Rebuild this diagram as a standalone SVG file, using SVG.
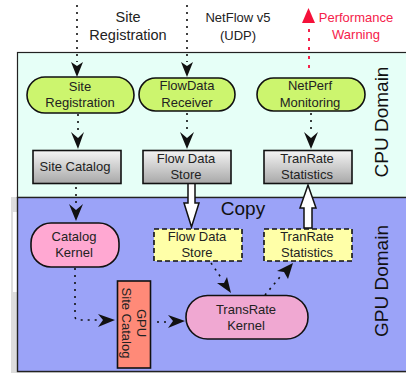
<svg xmlns="http://www.w3.org/2000/svg" width="406" height="373" viewBox="0 0 406 373">
<style>
text{font-family:"Liberation Sans",Arial,sans-serif;font-size:13px;fill:#222;text-anchor:middle}
.big{font-size:19px;fill:#111}
.lbl{font-size:14.500px}
.red{fill:#f5224a}
.s{stroke:#111;stroke-width:1.600}
.pill{fill:#ccf56e}
.box{fill:url(#g)}
.dash{fill:#ffffa8;stroke:#111;stroke-width:1.600;stroke-dasharray:5 3}
.c{fill:none;stroke:#111;stroke-width:1.600;stroke-dasharray:2 5}
.cr{fill:none;stroke:#f5224a;stroke-width:2;stroke-dasharray:3 6}
.ha{fill:#111}
.w{fill:#fff;stroke:#111;stroke-width:1.500}
</style>
<defs>
<linearGradient id="g" x1="0" y1="0" x2="0" y2="1"><stop offset="0" stop-color="#f4f4f4"/><stop offset="1" stop-color="#a8a8a8"/></linearGradient>
</defs>
<rect width="406" height="373" fill="#fff"/>
<rect x="11" y="197" width="6" height="176" fill="#ddd"/>
<rect x="13" y="212" width="4" height="80" fill="#fff"/>
<rect x="11" y="371" width="395" height="2" fill="#ddd"/>
<rect x="17.500" y="52.500" width="400" height="145" fill="#e6fff7" stroke="#222" stroke-width="1.200"/>
<rect x="17.500" y="197.500" width="400" height="174" fill="#9ba3f8" stroke="#222" stroke-width="1.400"/>
<g id="labels">
<text class="lbl" x="128" y="22">Site</text>
<text class="lbl" x="128" y="40">Registration</text>
<text x="238" y="22">NetFlow v5</text>
<text x="238" y="40">(UDP)</text>
<text class="red" x="356" y="22">Performance</text>
<text class="red" x="356" y="39">Warning</text>
<text class="big" x="243" y="215">Copy</text>
<text class="big" transform="translate(388 122) rotate(-90)">CPU Domain</text>
<text class="big" transform="translate(388 281) rotate(-90)">GPU Domain</text>
</g>
<g id="connectors">
<path class="c" d="M77 5V62"/><path class="ha" d="M71 62L77 66L83 62L77 77Z"/>
<path class="c" d="M187 5V62"/><path class="ha" d="M181 62L187 66L193 62L187 77Z"/>
<path class="cr" d="M309 29V72"/><path d="M302 23L315 23L308.500 8Z" fill="#f5113a"/>
<path class="c" d="M78 114V132"/><path class="ha" d="M71 132L78 138L84 132L78 149Z"/>
<path class="c" d="M187 113V132"/><path class="ha" d="M180 132L187 138L194 132L187 149Z"/>
<path class="c" d="M311 113V132"/><path class="ha" d="M304 132L311 138L318 132L311 149Z"/>
<path class="c" d="M76 187V204"/><path class="ha" d="M69 204L76 210L83 204L76 221Z"/>
<path class="c" d="M75 268V316Q75 320 79 320H98"/><path class="ha" d="M98 314L103 320L98 327L115 320Z"/>
<path class="c" d="M157 322H168"/><path class="ha" d="M168 315L173 321L168 328L185 321Z"/>
<path class="c" d="M211 263L222 279"/><path class="ha" d="M217 283L224 283L227 277L231 293Z"/>
<path class="c" d="M265 295L280 277"/><path class="ha" d="M277 271L284 272L288 279L293 263Z"/>
<path class="w" d="M188 183H195V203H199L191.500 227L184 203H188Z"/>
<path class="w" d="M304 228V208H300L308 185L316 208H312V228Z"/>
</g>
<g id="site-registration"><rect class="pill s" x="27" y="77" width="107" height="36" rx="18"/><text x="80" y="91">Site</text><text x="80" y="107">Registration</text></g>
<g id="flowdata-receiver"><rect class="pill s" x="139" y="78" width="96" height="33" rx="16.500"/><text x="187" y="90">FlowData</text><text x="187" y="107">Receiver</text></g>
<g id="netperf-monitoring"><rect class="pill s" x="257" y="78" width="108" height="33" rx="16.500"/><text x="310" y="90">NetPerf</text><text x="310" y="107">Monitoring</text></g>
<g id="site-catalog"><rect class="box s" x="33" y="150.500" width="88" height="33"/><text x="75" y="171">Site Catalog</text></g>
<g id="flow-data-store"><rect class="box s" x="143" y="150.500" width="88" height="33"/><text x="186" y="163">Flow Data</text><text x="186" y="179">Store</text></g>
<g id="tranrate-statistics"><rect class="box s" x="264" y="150.500" width="88" height="33"/><text x="307" y="163">TranRate</text><text x="307" y="179">Statistics</text></g>
<g id="catalog-kernel"><rect class="s" x="31" y="223" width="88" height="44" rx="20" fill="#ffa8d2"/><text x="74" y="241">Catalog</text><text x="74" y="257">Kernel</text></g>
<g id="flow-data-store-gpu"><rect class="dash" x="154" y="229" width="88" height="32"/><text x="197" y="241">Flow Data</text><text x="197" y="257">Store</text></g>
<g id="tranrate-statistics-gpu"><rect class="dash" x="264" y="229" width="88" height="32"/><text x="307" y="241">TranRate</text><text x="307" y="257">Statistics</text></g>
<g id="gpu-site-catalog"><rect class="s" x="117.500" y="281" width="33" height="87" fill="#ff8a78"/><text transform="translate(137 323) rotate(90)">GPU</text><text transform="translate(122 323) rotate(90)">Site Catalog</text></g>
<g id="transrate-kernel"><rect class="s" x="186" y="295.500" width="122" height="43.500" rx="21.500" fill="#f0a8d2"/><text x="246" y="314">TransRate</text><text x="246" y="330">Kernel</text></g>
</svg>
